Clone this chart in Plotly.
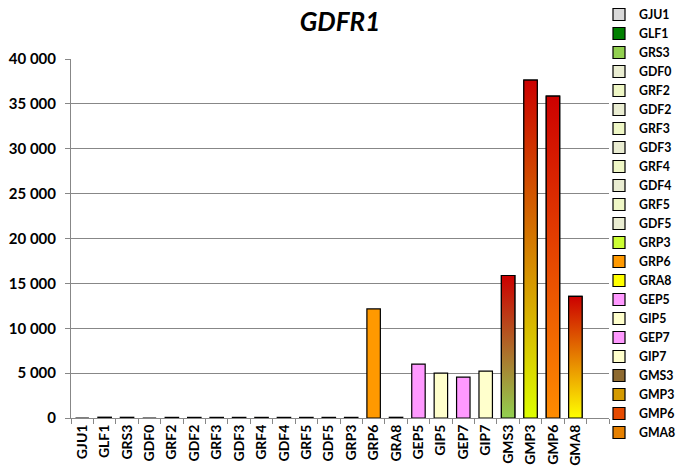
import plotly.graph_objects as go

# Series data
categories = ["GJU1", "GLF1", "GRS3", "GDF0", "GRF2", "GDF2", "GRF3", "GDF3",
              "GRF4", "GDF4", "GRF5", "GDF5", "GRP3", "GRP6", "GRA8", "GEP5",
              "GIP5", "GEP7", "GIP7", "GMS3", "GMP3", "GMP6", "GMA8"]
values = [0, 90, 80, 0, 70, 70, 70, 70, 70, 70, 70, 70, 70, 12150, 80,
          6000, 5000, 4550, 5230, 15880, 37650, 35860, 13550]

# Solid fill per category (gradient bars use a mid tone for the legend swatch)
colors = ["#D9D9D9", "#008000", "#92D050", "#EAEDD2", "#EFF7C6", "#EAEDD2",
          "#EFF7C6", "#EAEDD2", "#EFF7C6", "#EAEDD2", "#EFF7C6", "#EAEDD2",
          "#CCFF33", "#FF9900", "#FFFF00", "#FF99FF", "#FFFFCC", "#FF99FF",
          "#FFFFCC", "#8E6A30", "#D49A00", "#E64A00", "#E68000"]

# Vertical gradients (bottom colour, top colour)
gradients = {
    "GMS3": ("#92D050", "#CC0000"),
    "GMP3": ("#DDFF00", "#CC0000"),
    "GMP6": ("#FF8C00", "#CC0000"),
    "GMA8": ("#FFFF00", "#CC0000"),
}

tick_values = [0, 5000, 10000, 15000, 20000, 25000, 30000, 35000, 40000]

BAR_W = 0.6
GRID = "#878787"
FONT = "Lato"
W, H = 680, 468
M_L, M_R, M_T, M_B = 71, 71, 0, 4
PLOT_TOP, PLOT_BOTTOM = 59, 418   # pixel rows of the value-axis ends

fig = go.Figure()

for i, (cat, val, col) in enumerate(zip(categories, values, colors)):
    fig.add_trace(go.Bar(
        x=[i], y=[val], name=cat, width=BAR_W,
        marker=dict(color=col, line=dict(color="#000000", width=1.2)),
        legendgroup=cat,
    ))

# Gradient overlays for the last group of bars
for i, (cat, val) in enumerate(zip(categories, values)):
    if cat in gradients:
        bottom, top = gradients[cat]
        x0, x1 = i - BAR_W / 2, i + BAR_W / 2
        fig.add_trace(go.Scatter(
            x=[x0, x1, x1, x0, x0], y=[0, 0, val, val, 0],
            mode="lines", fill="toself",
            fillgradient=dict(type="vertical",
                              colorscale=[[0, bottom], [1, top]]),
            line=dict(color="#000000", width=1.2),
            showlegend=False, legendgroup=cat, hoverinfo="skip",
        ))

inner_h = H - M_T - M_B
y_dom = [(H - M_B - PLOT_BOTTOM) / inner_h, (H - M_B - PLOT_TOP) / inner_h]
inner_w = W - M_L - M_R

fig.update_layout(
    width=W, height=H,
    margin=dict(l=M_L, r=M_R, t=M_T, b=M_B, autoexpand=False),
    paper_bgcolor="white", plot_bgcolor="white",
    barmode="overlay",
    separators=". ",
    font=dict(family=FONT, color="#000000"),
    title=dict(
        text="GDFR1",
        font=dict(family=FONT, size=26, weight="bold", style="italic",
                  color="#000000"),
        x=0.5, xref="paper", xanchor="center",
        y=1 - 22 / H, yref="container", yanchor="middle",
    ),
    xaxis=dict(
        range=[-0.5, 23.5], automargin=False,
        tickmode="array", tickvals=list(range(len(categories))),
        ticktext=categories, tickangle=-90,
        tickfont=dict(family=FONT, size=14, weight="bold"),
        showgrid=False, zeroline=False,
        showline=True, linecolor=GRID, linewidth=1,
        ticks="",
        minor=dict(ticks="outside", tickmode="array",
                   tickvals=[i + 0.5 for i in range(-1, 24)],
                   ticklen=5, tickcolor=GRID, tickwidth=1, showgrid=False),
    ),
    yaxis=dict(
        range=[0, 40000], domain=y_dom, automargin=False,
        tickmode="array", tickvals=tick_values, tickformat=",d",
        tickfont=dict(family=FONT, size=15, weight="bold"),
        ticklabelstandoff=6,
        showgrid=True, gridcolor=GRID, gridwidth=1,
        zeroline=False,
        showline=True, linecolor=GRID, linewidth=1,
        ticks="outside", ticklen=5, tickcolor=GRID,
    ),
    legend=dict(
        x=(599 - M_L) / inner_w, xanchor="left",
        y=1, yanchor="top",
        bgcolor="rgba(0,0,0,0)",
        font=dict(family=FONT, size=12.3, weight="bold"),
        tracegroupgap=0, itemwidth=30,
    ),
    showlegend=True,
)

fig.write_html("out.html")
